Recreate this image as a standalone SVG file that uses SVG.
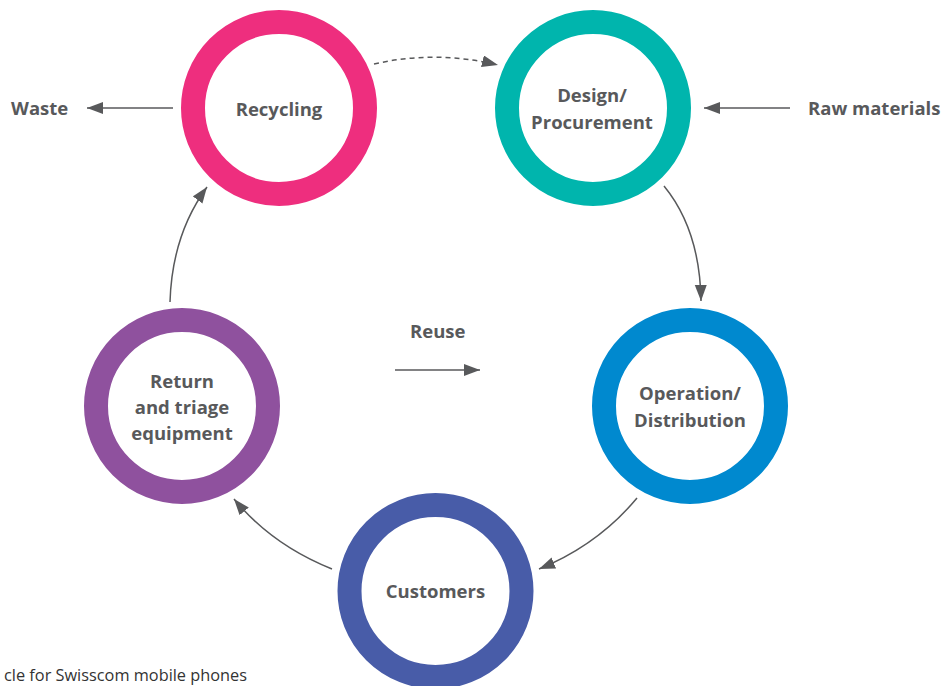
<svg xmlns="http://www.w3.org/2000/svg" width="942" height="686" viewBox="0 0 942 686">
<style>
.ring{fill:none;stroke-width:24}
.lbl{font-family:"Open Sans","Liberation Sans",sans-serif;font-weight:700;font-size:18.5px;fill:#58595b;text-anchor:middle}
.side{font-family:"Open Sans","Liberation Sans",sans-serif;font-weight:700;font-size:18.5px;fill:#58595b}
.cap{font-family:"Open Sans","Liberation Sans",sans-serif;font-size:17px;fill:#333333}
.conn{fill:none;stroke:#58595b;stroke-width:1.5;marker-end:url(#ah)}
</style>
<defs>
<marker id="ah" markerUnits="userSpaceOnUse" markerWidth="18" markerHeight="14" refX="16" refY="6" orient="auto">
<path d="M0,0 L16,6 L0,12 z" fill="#58595b"/>
</marker>
</defs>
<rect width="942" height="686" fill="#ffffff"/>
<g id="connectors">
<path class="conn" d="M374,64 Q436,50 498,65" stroke-dasharray="5,4"/>
<path class="conn" d="M664,186 Q700,230 701,301"/>
<path class="conn" d="M637,498 Q598,545 539,569"/>
<path class="conn" d="M332,569 Q272,545 234,499"/>
<path class="conn" d="M170,302 Q172,235 207,187"/>
<path class="conn" d="M173,108 L87,108"/>
<path class="conn" d="M790,108 L704,108"/>
<path class="conn" d="M395,370 L480,370"/>
</g>
<g id="recycling">
<circle class="ring" cx="279" cy="108" r="86" stroke="#ee2e7e"/>
<text class="lbl" x="279" y="116">Recycling</text>
</g>
<g id="design">
<circle class="ring" cx="593" cy="108" r="86" stroke="#00b5ad"/>
<text class="lbl" x="592" y="102">Design/</text>
<text class="lbl" x="592" y="129">Procurement</text>
</g>
<g id="operation">
<circle class="ring" cx="690" cy="406" r="86" stroke="#0089cf"/>
<text class="lbl" x="690" y="400">Operation/</text>
<text class="lbl" x="690" y="427">Distribution</text>
</g>
<g id="customers">
<circle class="ring" cx="435.5" cy="591" r="86" stroke="#485ca8"/>
<text class="lbl" x="435.5" y="598">Customers</text>
</g>
<g id="return">
<circle class="ring" cx="182" cy="406" r="86" stroke="#8f519e"/>
<text class="lbl" x="182" y="388">Return</text>
<text class="lbl" x="182" y="414">and triage</text>
<text class="lbl" x="182" y="440">equipment</text>
</g>
<g id="waste"><text class="side" x="11" y="115">Waste</text></g>
<g id="raw"><text class="side" x="808" y="115">Raw materials</text></g>
<g id="reuse"><text class="side" x="410" y="338">Reuse</text></g>
<text class="cap" x="4" y="681" textLength="243" lengthAdjust="spacingAndGlyphs">cle for Swisscom mobile phones</text>
</svg>
